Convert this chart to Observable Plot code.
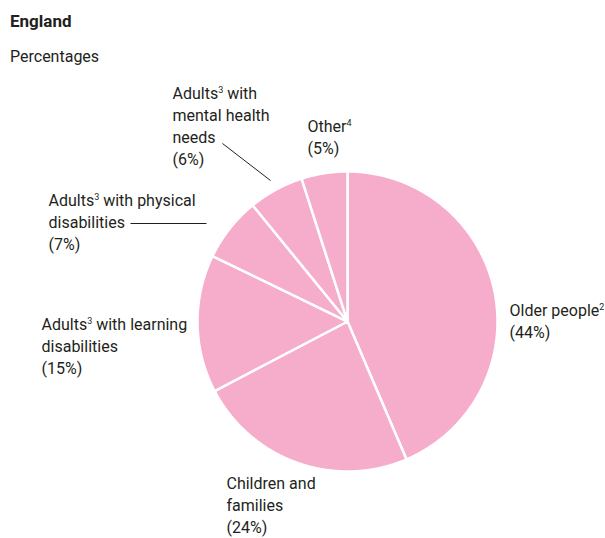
<!DOCTYPE html>
<html><head><meta charset="utf-8">
<script src="https://cdn.jsdelivr.net/npm/d3@7"></script>
<script src="https://cdn.jsdelivr.net/npm/@observablehq/plot@0.6"></script>
<style>
body{margin:0;background:#fff;font-family:Roboto,sans-serif;color:#231f20;width:605px;overflow:hidden}
#head{position:relative;height:72px}
#title{position:absolute;left:10px;top:11px;font-weight:bold;font-size:17px;line-height:21px}
#sub{position:absolute;left:10px;top:47px;font-size:16px;line-height:20px}
svg{display:block}
</style></head>
<body>
<div id="head"><div id="title">England</div><div id="sub">Percentages</div></div>
<div id="chart"></div>
<script>
// ---- data ----
const categories = ["Older people²", "Children and\nfamilies", "Adults³ with learning\ndisabilities", "Adults³ with physical\ndisabilities", "Adults³ with\nmental health\nneeds", "Other⁴"];
const values = [44, 24, 15, 7, 6, 5];

// ---- layout (page pixels) ----
const HEAD = 72, CX = 347, CY = 321, R = 150;
const labelPos = [[509, 300], [226, 473], [41, 314], [48, 190], [172, 83], [307, 116]];
const leaders = [[[130, 223], [206, 223]], [[222, 143], [270, 180]]];
const ux = px => (px - CX) / R, uy = py => (CY - py) / R;

const arcs = d3.pie().sort(null).startAngle(0).endAngle(2 * Math.PI)(values);
const slicePts = [];
arcs.forEach((a, i) => {
  slicePts.push({i, x: 0, y: 0});
  const n = Math.max(4, Math.ceil((a.endAngle - a.startAngle) / 0.01));
  for (let k = 0; k <= n; k++) {
    const t = a.startAngle + (a.endAngle - a.startAngle) * k / n;
    slicePts.push({i, x: Math.sin(t), y: Math.cos(t)});
  }
});
const labels = categories.map((c, i) => ({text: c + "\n(" + values[i] + "%)", x: ux(labelPos[i][0]), y: uy(labelPos[i][1])}));
const links = leaders.map(([a, b]) => ({x1: ux(a[0]), y1: uy(a[1]), x2: ux(b[0]), y2: uy(b[1])}));

const svg = Plot.plot({
  width: 605, height: 538 - HEAD, margin: 0,
  style: {fontFamily: "Roboto, sans-serif", fontSize: "16px", color: "#231f20", background: "#fff"},
  x: {domain: [-1, 1], range: [CX - R, CX + R], axis: null},
  y: {domain: [-1, 1], range: [CY - HEAD + R, CY - HEAD - R], axis: null},
  marks: [
    Plot.line(slicePts, {x: "x", y: "y", z: "i", fill: "#f5adcb", stroke: "#fff", strokeWidth: 2.5, curve: "linear-closed", strokeLinejoin: "round"}),
    Plot.link(links, {x1: "x1", y1: "y1", x2: "x2", y2: "y2", stroke: "#231f20", strokeWidth: 1}),
    Plot.text(labels, {x: "x", y: "y", text: "text", textAnchor: "start", lineAnchor: "top", lineHeight: 1.375, fontSize: 16, fill: "#231f20"})
  ]
});

// superscripts
const supMap = {"²": "2", "³": "3", "⁴": "4"};
svg.querySelectorAll("text, tspan").forEach(el => {
  if (el.childNodes.length !== 1 || el.firstChild.nodeType !== 3) return;
  const s = el.textContent;
  if (!/[²³⁴]/.test(s)) return;
  el.textContent = "";
  const parts = s.split(/([²³⁴])/);
  parts.forEach(p => {
    if (!p) return;
    if (supMap[p]) {
      const t = document.createElementNS("http://www.w3.org/2000/svg", "tspan");
      t.setAttribute("font-size", "9");
      t.setAttribute("baseline-shift", "6");
      t.textContent = supMap[p];
      el.appendChild(t);
    } else el.appendChild(document.createTextNode(p));
  });
});
document.getElementById("chart").appendChild(svg);
</script>
</body></html>
